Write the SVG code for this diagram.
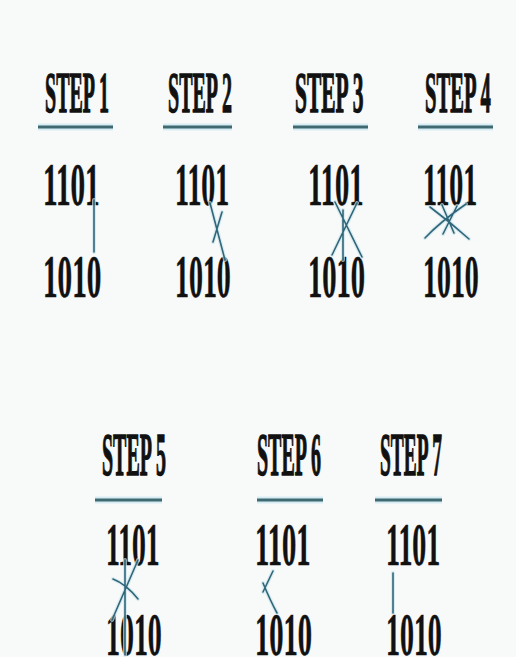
<svg xmlns="http://www.w3.org/2000/svg" width="516" height="657" viewBox="0 0 516 657">
<style>
.t{font-family:"Liberation Serif","Times New Roman",serif;font-weight:bold;fill:#111;stroke:#111;}
.h{font-size:58px;stroke-width:1.4;}
.hb{font-size:61px;stroke-width:1.4;}
.d{font-size:62px;stroke-width:0.6;}
.ul{stroke:#3f6a72;stroke-width:3;fill:none;}
.ulh{stroke:#d6edf4;stroke-width:7;fill:none;}
.c{stroke:#2f6678;stroke-width:1.6;fill:none;stroke-linecap:round;}
.ch{stroke:#cde6ee;stroke-width:4;fill:none;opacity:0.7;stroke-linecap:round;}
</style>
<rect width="516" height="657" fill="#f8f9f9"/>
<g id="step1">
<line class="ulh" x1="38" y1="127" x2="113" y2="127"/><line class="ul" x1="38" y1="127" x2="113" y2="127"/>
<text class="t h" transform="translate(45 112) scale(0.345 1)">STEP 1</text>
<text class="t d" transform="translate(43 205) scale(0.47 1)">1101</text>
<text class="t d" transform="translate(43 297) scale(0.47 1)">1010</text>
</g>
<g id="step2">
<line class="ulh" x1="163" y1="127" x2="232" y2="127"/><line class="ul" x1="163" y1="127" x2="232" y2="127"/>
<text class="t h" transform="translate(168 112) scale(0.345 1)">STEP 2</text>
<text class="t d" transform="translate(175 205) scale(0.45 1)">1101</text>
<text class="t d" transform="translate(175 297) scale(0.45 1)">1010</text>
</g>
<g id="step3">
<line class="ulh" x1="293" y1="127" x2="368" y2="127"/><line class="ul" x1="293" y1="127" x2="368" y2="127"/>
<text class="t h" transform="translate(295 112) scale(0.37 1)">STEP 3</text>
<text class="t d" transform="translate(308 205) scale(0.46 1)">1101</text>
<text class="t d" transform="translate(308 297) scale(0.46 1)">1010</text>
</g>
<g id="step4">
<line class="ulh" x1="418" y1="127" x2="493" y2="127"/><line class="ul" x1="418" y1="127" x2="493" y2="127"/>
<text class="t h" transform="translate(425 112) scale(0.355 1)">STEP 4</text>
<text class="t d" transform="translate(423 205) scale(0.45 1)">1101</text>
<text class="t d" transform="translate(423 297) scale(0.45 1)">1010</text>
</g>
<g id="step5">
<line class="ulh" x1="95" y1="500" x2="162" y2="500"/><line class="ul" x1="95" y1="500" x2="162" y2="500"/>
<text class="t hb" transform="translate(102 475) scale(0.328 1)">STEP 5</text>
<text class="t d" transform="translate(106 565) scale(0.445 1)">1101</text>
<text class="t d" transform="translate(106 655) scale(0.45 1)">1010</text>
</g>
<g id="step6">
<line class="ulh" x1="257" y1="500" x2="323" y2="500"/><line class="ul" x1="257" y1="500" x2="323" y2="500"/>
<text class="t hb" transform="translate(257 475) scale(0.328 1)">STEP 6</text>
<text class="t d" transform="translate(255 565) scale(0.46 1)">1101</text>
<text class="t d" transform="translate(255 655) scale(0.46 1)">1010</text>
</g>
<g id="step7">
<line class="ulh" x1="375" y1="500" x2="442" y2="500"/><line class="ul" x1="375" y1="500" x2="442" y2="500"/>
<text class="t hb" transform="translate(380 475) scale(0.318 1)">STEP 7</text>
<text class="t d" transform="translate(386 565) scale(0.45 1)">1101</text>
<text class="t d" transform="translate(386 655) scale(0.45 1)">1010</text>
</g>
<g id="connectors">
<g class="ch">
<path d="M94 200V252"/>
<path d="M210 203L225 260M222 212L213 242"/>
<path d="M335 202L362 257M357 203L332 255M343 210V260"/>
<path d="M425 238Q440 222 466 204M430 207Q450 222 469 239M442 205L454 233M457 206L443 234"/>
<path d="M125 560V655M138 560L112 620M113 579Q126 584 138 599"/>
<path d="M273 571L263 592M263 583Q270 600 277 613"/>
<path d="M393 573V613"/>
</g>
<g class="c">
<path d="M94 200V252"/>
<path d="M210 203L225 260M222 212L213 242"/>
<path d="M335 202L362 257M357 203L332 255M343 210V260"/>
<path d="M425 238Q440 222 466 204M430 207Q450 222 469 239M442 205L454 233M457 206L443 234"/>
<path d="M125 560V655M138 560L112 620M113 579Q126 584 138 599"/>
<path d="M273 571L263 592M263 583Q270 600 277 613"/>
<path d="M393 573V613"/>
</g>
</g>
</svg>
